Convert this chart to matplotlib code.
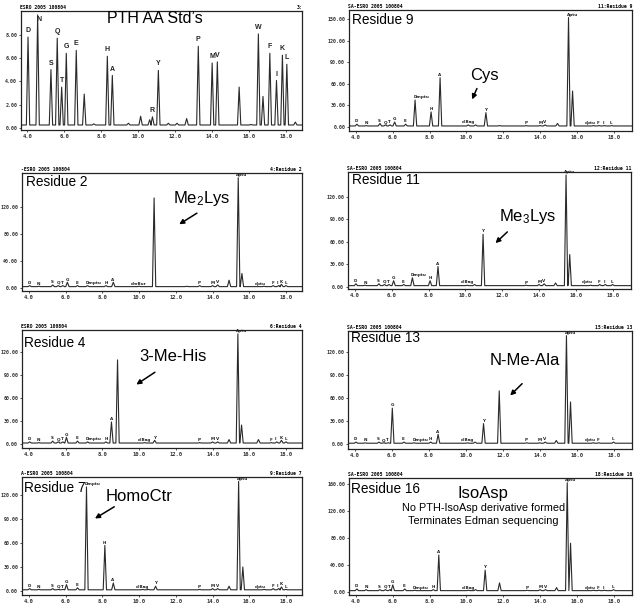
import matplotlib
matplotlib.use("Agg")
import matplotlib.pyplot as plt

plt.rcParams['font.family'] = ['Liberation Sans', 'DejaVu Sans']
plt.rcParams['mathtext.default'] = 'regular'

# ---- PTH amino acid standards (top left) ----
std_t = [4.04, 4.56, 5.28, 5.62, 5.86, 6.11, 6.65, 7.08, 7.6, 8.33, 8.6, 9.47,
         10.13, 10.62, 10.77, 11.09, 11.63, 12.1, 12.62, 13.25, 14.0, 14.28,
         15.46, 16.1, 16.5, 16.75, 17.12, 17.48, 17.8, 18.04, 18.5]
std_h = [7.8, 9.7, 5.0, 7.7, 3.5, 6.4, 6.65, 2.9, 0.35, 6.15, 4.5, 0.4,
         1.0, 0.7, 0.95, 4.94, 0.4, 0.4, 0.8, 7.0, 5.57, 5.66,
         3.5, 0.3, 8.06, 2.7, 6.4, 4.07, 6.24, 5.46, 0.5]
std_lab = ["D", "N", "S", "Q", "T", "G", "E", "", "", "H", "A", "",
           "", "", "R", "Y", "", "", "", "P", "M", "V",
           "", "", "W", "", "F", "I", "K", "L", ""]

# ---- residue cycles ----
r9_t = [4.05, 4.55, 5.3, 5.6, 5.85, 6.1, 6.7, 7.21, 8.08, 8.57, 10.1, 10.5,
        11.06, 11.8, 13.25, 14.0, 14.28, 14.95, 15.55, 15.77, 16.9, 17.2, 17.5, 17.9]
r9_h = [4, 2, 5, 3, 3, 7, 4, 37.5, 21, 68.5, 3, 3,
        20, 2, 2, 2, 3, 5, 152, 50, 2, 2, 2, 2]
r9_lab = ["D", "N", "S", "Q", "T", "G", "E", "Dmptu", "H", "A", "dlBag", "",
          "Y", "", "P", "M", "V", "", "Aptu", "", "dptu", "F", "I", "L"]

r2_t = [4.05, 4.55, 5.3, 5.6, 5.85, 6.1, 6.65, 7.2, 8.2, 8.6, 10.0, 10.82,
        12.6, 13.3, 14.0, 14.28, 14.9, 15.4, 15.6, 16.8, 17.3, 17.6, 17.75, 18.0]
r2_h = [3, 2, 4, 3, 3, 8, 3, 3, 3, 8, 2, 133,
        2, 3, 3, 4, 11, 163, 21, 2, 3, 3, 5, 3]
r2_lab = ["D", "N", "S", "Q", "T", "G", "E", "Dmptu", "H", "A", "dmBur", "",
          "", "P", "M", "V", "", "Aptu", "", "dptu", "F", "I", "K", "L"]

r11_t = [4.05, 4.55, 5.3, 5.6, 5.85, 6.1, 6.65, 7.12, 8.08, 8.51, 10.1, 10.5,
         10.96, 13.3, 14.0, 14.28, 14.9, 15.47, 15.67, 16.8, 17.3, 17.6, 18.0]
r11_h = [4, 2, 4, 3, 3, 8, 3, 12, 8, 27, 2, 3,
         70, 2, 3, 4, 5, 149, 43, 2, 3, 3, 3]
r11_lab = ["D", "N", "S", "Q", "T", "G", "E", "Dmptu", "H", "A", "dlBag", "",
           "Y", "P", "M", "V", "", "Aptu", "", "dptu", "F", "I", "L"]

r4_t = [4.05, 4.55, 5.3, 5.6, 5.85, 6.05, 6.65, 7.2, 8.2, 8.5, 8.83, 10.3,
        10.85, 12.0, 13.3, 14.0, 14.28, 14.9, 15.38, 15.58, 16.5, 17.2, 17.5, 17.75, 18.0]
r4_h = [3, 2, 4, 3, 3, 9, 4, 3, 3, 29, 110, 2,
        5, 1.5, 2, 3, 3, 6, 144, 25, 6, 2, 3, 5, 3]
r4_lab = ["D", "N", "S", "Q", "T", "G", "E", "Dmptu", "H", "A", "", "dlBag",
          "Y", "", "P", "M", "V", "", "Aptu", "", "", "F", "I", "K", "L"]

r13_t = [4.05, 4.55, 5.3, 5.55, 5.8, 6.02, 6.65, 7.2, 8.1, 8.5, 10.1, 10.5,
         10.96, 11.81, 13.3, 14.0, 14.3, 14.9, 15.45, 15.67, 16.9, 17.2, 18.0]
r13_h = [3, 2, 3, 2, 2, 47, 3, 2, 3, 13, 2, 3,
         27, 69.4, 2, 2, 3, 5, 141, 55, 2, 2, 3]
r13_lab = ["D", "N", "S", "Q", "T", "G", "E", "Dmptu", "H", "A", "dlBag", "",
           "Y", "", "P", "M", "V", "", "Aptu", "", "dptu", "F", "L"]

r7_t = [4.05, 4.55, 5.3, 5.6, 5.85, 6.05, 6.65, 7.14, 8.14, 8.6, 10.2, 10.5,
        10.9, 13.3, 14.0, 14.28, 14.9, 15.42, 15.65, 16.8, 17.3, 17.6, 17.75, 18.0]
r7_h = [3, 2, 3, 2, 2, 8, 4, 130, 57, 10, 2, 2,
        6, 2, 3, 3, 6, 137, 30, 2, 3, 3, 5, 2]
r7_lab = ["D", "N", "S", "Q", "T", "G", "E", "Dmptu", "H", "A", "dlBag", "",
          "Y", "P", "M", "V", "", "Aptu", "", "dptu", "F", "I", "K", "L"]

r16_t = [4.05, 4.55, 5.3, 5.6, 5.85, 6.0, 6.65, 7.2, 8.2, 8.5, 10.1, 10.5,
         11.02, 11.8, 13.3, 14.0, 14.3, 14.9, 15.48, 15.66, 16.9, 17.2, 17.5, 18.0]
r16_h = [4, 3, 3, 3, 3, 10, 4, 2, 3, 54.5, 2, 3,
         32, 13, 2, 3, 3, 6, 162, 72, 2, 2, 2, 3]
r16_lab = ["D", "N", "S", "Q", "T", "G", "E", "Dmptu", "H", "A", "dlBag", "",
           "Y", "", "P", "M", "V", "", "Aptu", "", "dptu", "F", "I", "L"]

x_ticks = [4, 6, 8, 10, 12, 14, 16, 18]

# panel boxes in pixels (left, top, right, bottom)
W, H = 640, 612
def box(l, t, r, b):
    return [l / W, 1 - b / H, (r - l) / W, (b - t) / H]

fig = plt.figure(figsize=(6.4, 6.12), dpi=100)
LINE = "#2a2a2a"


def trace(ax, t, h, base, half_w, xlim):
    xs, ys = [xlim[0]], [base]
    for ti, hi in sorted(zip(t, h)):
        xs += [ti - half_w, ti, ti + half_w]
        ys += [base, max(hi, base), base]
    xs.append(xlim[1]); ys.append(base)
    ax.plot(xs, ys, color=LINE, lw=0.8)


def frame(ax, xlim, ylim, yticks, fmt, head_l, head_r):
    ax.set_xlim(xlim)
    ax.set_ylim(ylim)
    ax.set_xticks(x_ticks)
    ax.set_xticklabels([f"{v:.1f}" for v in x_ticks])
    ax.set_yticks(yticks)
    ax.set_yticklabels([fmt.format(v) for v in yticks])
    ax.tick_params(length=1.5, width=0.6, pad=1.2, colors="#333333")
    ax.tick_params(axis="x", labelsize=4)
    ax.tick_params(axis="y", labelsize=3.6)
    for lb in ax.get_xticklabels() + ax.get_yticklabels():
        lb.set_family("DejaVu Sans Mono")
        lb.set_weight("bold")
    for s in ax.spines.values():
        s.set_linewidth(0.9)
        s.set_color("#222222")
    ax.text(-0.005, 1.01, head_l, transform=ax.transAxes, fontsize=3.4,
            family="DejaVu Sans Mono", weight="bold", va="bottom", ha="left")
    ax.text(1.0, 1.01, head_r, transform=ax.transAxes, fontsize=3.4,
            family="DejaVu Sans Mono", weight="bold", va="bottom", ha="right")


def small_labels(ax, t, h, labs, dy):
    for ti, hi, lb in zip(t, h, labs):
        if not lb:
            continue
        # crowded spots: write some names left of / centred on the peak
        if lb == "dptu":
            x, ha = ti + 0.12, "right"
        elif lb in ("dlBag", "dmBur"):
            x, ha = ti, "center"
        else:
            x, ha = ti - 0.1, "left"
        ax.text(x, hi + dy, lb, fontsize=3.0, weight="bold",
                family="DejaVu Sans", ha=ha, va="bottom", color="#222222")


LEFT_X = (3.63, 18.87)
RIGHT_X = (3.62, 19.0)

# --- panel 1: standards ---
ax = fig.add_axes(box(21, 11, 302, 130))
trace(ax, std_t, std_h, 0.25, 0.09, (3.66, 18.86))
frame(ax, (3.66, 18.86), (-0.18, 10.03), [0, 2, 4, 6, 8], "{:.2f}",
      "ESRO 2005 100804", "3:")
for ti, hi, lb in zip(std_t, std_h, std_lab):
    if lb:
        ly = hi + 0.25
        lx = ti
        if ly > 9.0:   # keep the tallest label inside the frame
            ly, lx = 9.0, ti + 0.1
        ax.text(lx, ly, lb, fontsize=5, weight="bold", ha="center",
                va="bottom", color="#222222")
ax.text(0.477, 0.933, "PTH AA Std\u2019s", transform=ax.transAxes, fontsize=11.5,
        ha="center", va="center")

# --- residue panels ---
panels = [
    (box(349, 10, 632, 131), RIGHT_X, (-5.5, 162.5), [0, 30, 60, 90, 120, 150],
     r9_t, r9_h, r9_lab, "SA-ESRO 2005 100804", "11:Residue 9", "Residue 9", (0.012, 0.917)),
    (box(22, 173, 302, 291), LEFT_X, (-5, 170), [0, 40, 80, 120],
     r2_t, r2_h, r2_lab, "-ESRO 2005 100804", "4:Residue 2", "Residue 2", (0.014, 0.92)),
    (box(348, 172, 631, 289), RIGHT_X, (-3, 153), [0, 30, 60, 90, 120],
     r11_t, r11_h, r11_lab, "SA-ESRO 2005 100804", "12:Residue 11", "Residue 11", (0.015, 0.93)),
    (box(22, 330, 302, 448), LEFT_X, (-5, 149), [0, 30, 60, 90, 120],
     r4_t, r4_h, r4_lab, "ESRO 2005 100804", "6:Residue 4", "Residue 4", (0.006, 0.887)),
    (box(348, 331, 632, 449), RIGHT_X, (-6, 147), [0, 30, 60, 90, 120],
     r13_t, r13_h, r13_lab, "SA-ESRO 2005 100804", "15:Residue 13", "Residue 13", (0.01, 0.938)),
    (box(22, 477, 302, 595), LEFT_X, (-5, 142.5), [0, 30, 60, 90, 120],
     r7_t, r7_h, r7_lab, "A-ESRO 2005 100804", "9:Residue 7", "Residue 7", (0.006, 0.91)),
    (box(349, 478, 632, 595), RIGHT_X, (-5, 169), [0, 40, 80, 120, 160],
     r16_t, r16_h, r16_lab, "SA-ESRO 2005 100804", "18:Residue 16", "Residue 16", (0.006, 0.91)),
]

axes = []
for pos, xl, yl, yt, t, h, labs, hl, hr, name, npos in panels:
    ax = fig.add_axes(pos)
    trace(ax, t, h, 1.5, 0.09, xl)
    frame(ax, xl, yl, yt, "{:.2f}", hl, hr)
    small_labels(ax, t, h, labs, 1.0)
    ax.text(npos[0], npos[1], name, transform=ax.transAxes, fontsize=9.8,
            ha="left", va="center")
    axes.append(ax)

arrow = dict(arrowstyle="-|>", lw=1.1, color="black", mutation_scale=7)
notes = [
    (0, "Cys", (0.477, 0.46), (0.456, 0.372), (0.431, 0.24)),
    (1, "Me$_2$Lys", (0.642, 0.786), (0.633, 0.672), (0.553, 0.553)),
    (2, "Me$_3$Lys", (0.634, 0.618), (0.57, 0.504), (0.514, 0.376)),
    (3, "3-Me-His", (0.539, 0.774), (0.483, 0.655), (0.40, 0.525)),
    (4, "N-Me-Ala", (0.623, 0.754), (0.62, 0.57), (0.564, 0.437)),
    (5, "HomoCtr", (0.418, 0.833), (0.338, 0.76), (0.252, 0.636)),
]
for i, txt, tpos, a0, a1 in notes:
    ax = axes[i]
    ax.text(tpos[0], tpos[1], txt, transform=ax.transAxes, fontsize=12,
            ha="center", va="center")
    ax.annotate("", xy=a1, xytext=a0, xycoords="axes fraction",
                textcoords="axes fraction", arrowprops=arrow)

ax = axes[6]
ax.text(0.475, 0.869, "IsoAsp", transform=ax.transAxes, fontsize=12,
        ha="center", va="center")
ax.text(0.475, 0.746, "No PTH-IsoAsp derivative formed", transform=ax.transAxes,
        fontsize=7.8, ha="center", va="center")
ax.text(0.475, 0.635, "Terminates Edman sequencing", transform=ax.transAxes,
        fontsize=7.8, ha="center", va="center")

fig.savefig("out.png", dpi=100)
